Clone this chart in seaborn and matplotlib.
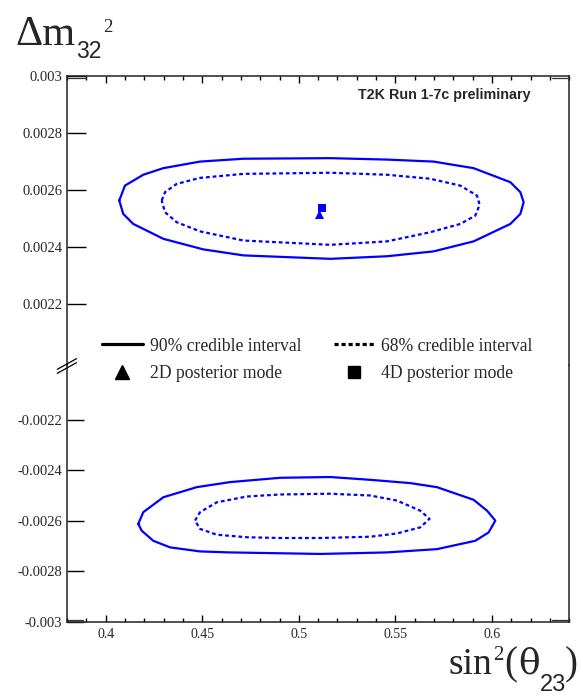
import numpy as np
import pandas as pd
import matplotlib
matplotlib.use("Agg")
import matplotlib.pyplot as plt
import seaborn as sns
from matplotlib.lines import Line2D
from matplotlib.ticker import FixedLocator, MultipleLocator, FuncFormatter

# ---------------- data ----------------
# Normal hierarchy (dm32^2 > 0) credible contours
nh90_x = [0.40705, 0.41000, 0.41948, 0.42984, 0.44886, 0.47130, 0.51627, 0.54560, 0.56974,
          0.59047, 0.60948, 0.61466, 0.61637, 0.61466, 0.60948, 0.59047, 0.56974, 0.54560,
          0.51627, 0.47130, 0.45057, 0.42984, 0.41430, 0.40912]
nh90_y = [0.002563, 0.002615, 0.002653, 0.002676, 0.002699, 0.002709, 0.002711, 0.002706, 0.002699,
          0.002676, 0.002627, 0.002592, 0.002557, 0.002516, 0.002481, 0.002420, 0.002385, 0.002368,
          0.002359, 0.002371, 0.002392, 0.002429, 0.002481, 0.002516]
nh68_x = [0.42902, 0.43073, 0.43679, 0.44886, 0.47130, 0.51627, 0.54560, 0.56803, 0.58358, 0.59223,
          0.59358, 0.59135, 0.58358, 0.56803, 0.54560, 0.51627, 0.47130, 0.44886, 0.43679, 0.43073]
nh68_y = [0.002563, 0.002592, 0.002621, 0.002642, 0.002656, 0.002660, 0.002653, 0.002639, 0.002615, 0.002580,
          0.002548, 0.002510, 0.002481, 0.002452, 0.002420, 0.002408, 0.002423, 0.002455, 0.002487, 0.002522]
# Inverted hierarchy (dm32^2 < 0) credible contours
ih90_x = [0.41689, 0.41948, 0.42984, 0.44715, 0.46440, 0.49031, 0.51627, 0.53694, 0.55767, 0.57150,
          0.59047, 0.59741, 0.60171, 0.59824, 0.59135, 0.57150, 0.54560, 0.51104, 0.46440, 0.44886,
          0.43332, 0.42466, 0.41865]
ih90_y = [-0.002612, -0.002566, -0.002507, -0.002467, -0.002447, -0.002430, -0.002427, -0.002438, -0.002451, -0.002467,
          -0.002517, -0.002560, -0.002599, -0.002646, -0.002679, -0.002712, -0.002725, -0.002731, -0.002725, -0.002721,
          -0.002705, -0.002679, -0.002639]
ih68_x = [0.44627, 0.44886, 0.45751, 0.47306, 0.49031, 0.51627, 0.53694, 0.55078, 0.56285, 0.56767,
          0.56285, 0.55078, 0.53694, 0.51104, 0.49031, 0.47306, 0.45751, 0.44886]
ih68_y = [-0.002599, -0.002566, -0.002527, -0.002504, -0.002496, -0.002493, -0.002500, -0.002520, -0.002560, -0.002592,
          -0.002626, -0.002650, -0.002663, -0.002668, -0.002668, -0.002665, -0.002655, -0.002632]
# posterior modes
mode2d_x = [0.5103]
mode2d_y = [0.002516]
mode4d_x = [0.5119]
mode4d_y = [0.002535]

top_yticks = [0.0022, 0.0024, 0.0026, 0.0028, 0.003]
bot_yticks = [-0.003, -0.0028, -0.0026, -0.0024, -0.0022]
xticks = [0.4, 0.45, 0.5, 0.55, 0.6]
legend_labels = ["90% credible interval", "2D posterior mode", "68% credible interval", "4D posterior mode"]

# ---------------- figure ----------------
sns.set_style("white")
plt.rcParams["font.family"] = ["Liberation Serif", "DejaVu Sans"]
W, H = 583, 700
fig = plt.figure(figsize=(W / 100, H / 100), dpi=100)

L, R = 67, 569.3
T, B, BRK = 75.5, 622, 365
ax_t = fig.add_axes([L / W, 1 - BRK / H, (R - L) / W, (BRK - T) / H])
ax_b = fig.add_axes([L / W, 1 - B / H, (R - L) / W, (B - BRK) / H])

blue = "#0000ff"
dots = (0, (1.7, 1.3))


def closed(x, y):
    return pd.DataFrame({"x": list(x) + [x[0]], "y": list(y) + [y[0]]})


for ax, c90, c68 in [(ax_t, (nh90_x, nh90_y), (nh68_x, nh68_y)),
                     (ax_b, (ih90_x, ih90_y), (ih68_x, ih68_y))]:
    sns.lineplot(data=closed(*c90), x="x", y="y", sort=False, estimator=None,
                 ax=ax, color=blue, lw=1.6)
    sns.lineplot(data=closed(*c68), x="x", y="y", sort=False, estimator=None,
                 ax=ax, color=blue, lw=1.6, linestyle=dots)

sns.scatterplot(x=mode2d_x, y=mode2d_y, marker="^", s=6.5 ** 2, color=blue, linewidth=0, ax=ax_t, zorder=5)
sns.scatterplot(x=mode4d_x, y=mode4d_y, marker="s", s=6.2 ** 2, color=blue, linewidth=0, ax=ax_t, zorder=6)

# axes ranges
xlim = (0.38, 0.64)
ax_t.set_xlim(*xlim)
ax_b.set_xlim(*xlim)
ax_t.set_ylim(0.003 - (BRK - T) / 286000, 0.003)
ax_b.set_ylim(-0.003, -0.003 + (B - BRK) / 253000)

fmt = FuncFormatter(lambda v, p: "%g" % v)
for ax, yt, ylen in [(ax_t, top_yticks, 13.7), (ax_b, bot_yticks, 12)]:
    ax.set_xlabel("")
    ax.set_ylabel("")
    ax.yaxis.set_major_locator(FixedLocator(yt))
    ax.yaxis.set_major_formatter(fmt)
    ax.xaxis.set_major_locator(FixedLocator(xticks))
    ax.xaxis.set_minor_locator(MultipleLocator(0.01))
    ax.xaxis.set_major_formatter(fmt)
    ax.tick_params(axis="y", which="major", direction="in", length=ylen, width=1,
                   labelsize=10.5, pad=3.5, color="black", left=True, right=False)
    ax.tick_params(axis="y", which="minor", left=False, right=False)
    ax.tick_params(axis="x", which="major", direction="in", length=5.2, width=1, labelsize=10, pad=4,
                   color="black")
    ax.tick_params(axis="x", which="minor", direction="in", length=3, width=1, color="black")
    for s in ax.spines.values():
        s.set_linewidth(1.1)
        s.set_color("#222222")

ax_t.spines["bottom"].set_visible(False)
ax_t.tick_params(axis="x", which="both", bottom=False, top=True, labelbottom=False)
ax_b.spines["top"].set_visible(False)
ax_b.tick_params(axis="x", which="both", bottom=True, top=False, labelbottom=True)
ax_b.patch.set_alpha(0)


def px_line(x0, y0, x1, y1, **kw):
    fig.add_artist(Line2D([x0 / W, x1 / W], [1 - y0 / H, 1 - y1 / H], transform=fig.transFigure, **kw))


# axis break mark and corner marks
px_line(57.3, 369.3, 76.5, 358.7, color="black", lw=0.9)
px_line(57.3, 373.3, 76.5, 362.7, color="black", lw=0.9)
px_line(67, 77.8, 86, 77.8, color="#333333", lw=0.9)
px_line(552, 77.8, 569, 77.8, color="#333333", lw=0.9)
px_line(67, 619.8, 83, 619.8, color="#333333", lw=0.9)
px_line(552, 619.8, 569, 619.8, color="#333333", lw=0.9)

# legend
handles = [
    Line2D([], [], color="black", lw=2.3),
    Line2D([], [], color="black", marker="^", ms=9.5, ls="none"),
    Line2D([], [], color="black", lw=2.3, linestyle=(0, (1.3, 0.9))),
    Line2D([], [], color="black", marker="s", ms=8.5, ls="none"),
]
fig.legend(handles, legend_labels, ncol=2, loc="upper left",
           bbox_to_anchor=(102 / W, 1 - 337.5 / H), frameon=False, fontsize=12.7,
           handlelength=2.3, handletextpad=0.4, columnspacing=1.85, labelspacing=0.62,
           borderpad=0, borderaxespad=0)

# annotation
fig.text(530 / W, 1 - 99.5 / H, "T2K Run 1-7c preliminary", ha="right", va="baseline",
         family="Liberation Sans", weight="bold", fontsize=10.3)

renderer = fig.canvas.get_renderer()


def chain(x_px, base_px, pieces):
    x = x_px
    for s, fam, size, dy, gap in pieces:
        t = fig.text((x + gap) / W, 1 - (base_px + dy) / H, s, family=fam, fontsize=size,
                     ha="left", va="baseline")
        x = t.get_window_extent(renderer).x1


chain(15, 45, [("Δm", "Liberation Serif", 30.5, 0, 0),
               ("32", "Liberation Sans", 16.5, 13, 1),
               ("2", "Liberation Serif", 13.5, -13, 2)])
chain(449, 674, [("sin", "Liberation Serif", 27, 0, 0),
                 ("2", "Liberation Serif", 15, -14, 0),
                 ("(", "Liberation Serif", 28, 0, 1),
                 ("θ", "DejaVu Serif", 26, 0, 1),
                 ("23", "Liberation Sans", 17, 17, 0),
                 (")", "Liberation Serif", 28, 0, -1)])

fig.savefig("out.png", dpi=100)
